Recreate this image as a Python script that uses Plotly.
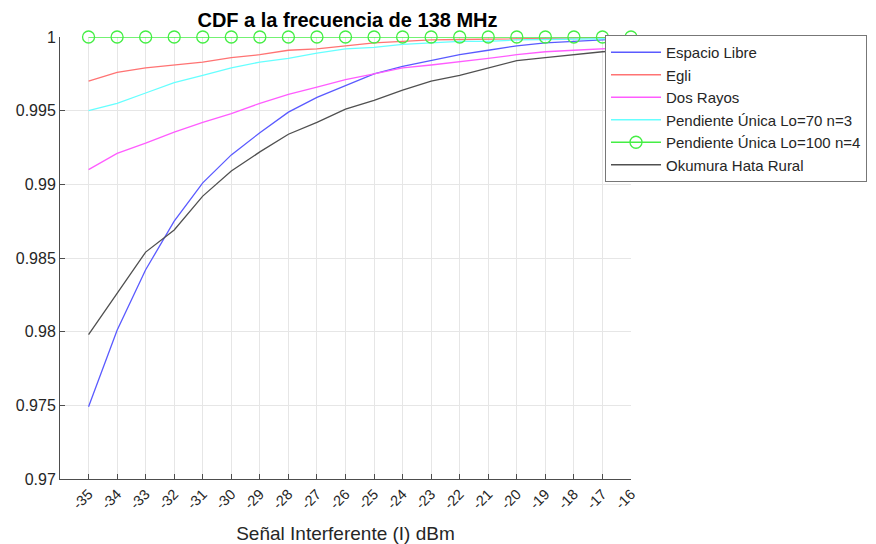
import plotly.graph_objects as go

x = list(range(-35, -15))

espacio_libre = [0.9749, 0.9801, 0.9842, 0.9875, 0.9901, 0.9920, 0.9935, 0.9949, 0.9959, 0.9967,
                 0.9975, 0.9980, 0.9984, 0.9988, 0.9991, 0.9994, 0.9996, 0.9997, 0.9998, 0.9999]
egli = [0.9970, 0.9976, 0.9979, 0.9981, 0.9983, 0.9986, 0.9988, 0.9991, 0.9992, 0.9994,
        0.9996, 0.9997, 0.9998, 0.99983, 0.99986, 0.9999, 0.9999, 0.99995, 0.99995, 0.99997]
dos_rayos = [0.9910, 0.9921, 0.9928, 0.99355, 0.9942, 0.9948, 0.9955, 0.9961, 0.9966, 0.9971,
             0.9975, 0.9979, 0.9981, 0.9983, 0.99855, 0.9988, 0.9990, 0.9991, 0.9992, 0.9993]
pend_70 = [0.9950, 0.9955, 0.9962, 0.9969, 0.9974, 0.9979, 0.9983, 0.99855, 0.9989, 0.9992,
           0.9993, 0.9995, 0.9996, 0.9997, 0.9997, 0.9998, 0.99983, 0.99986, 0.9999, 0.9999]
pend_100 = [1.0] * 20
okumura = [0.9798, 0.9826, 0.9854, 0.9869, 0.9892, 0.9909, 0.9922, 0.9934, 0.9942, 0.9951,
           0.9957, 0.9964, 0.9970, 0.9974, 0.9979, 0.9984, 0.9986, 0.9988, 0.9990, 0.9991]

tick_vals_x = x
tick_text_x = [str(v) for v in x]
tick_vals_y = [0.97, 0.975, 0.98, 0.985, 0.99, 0.995, 1.0]
tick_text_y = ["0.97", "0.975", "0.98", "0.985", "0.99", "0.995", "1"]

series = [
    ("Espacio Libre", espacio_libre, "#5a5aff", None),
    ("Egli", egli, "#ff7373", None),
    ("Dos Rayos", dos_rayos, "#ff5cff", None),
    ("Pendiente Única Lo=70 n=3", pend_70, "#66ffff", None),
    ("Pendiente Única Lo=100 n=4", pend_100, "#44ee44", "circle-open"),
    ("Okumura Hata Rural", okumura, "#505050", None),
]

fig = go.Figure()
for name, vals, color, sym in series:
    if sym:
        fig.add_trace(go.Scatter(x=x, y=vals, name=name, mode="lines+markers",
                                 line=dict(color=color, width=1.3),
                                 marker=dict(symbol=sym, size=12, color=color, line=dict(width=1.3, color=color)),
                                 cliponaxis=False))
    else:
        fig.add_trace(go.Scatter(x=x, y=vals, name=name, mode="lines",
                                 line=dict(color=color, width=1.3)))

# The page body adds an 8px offset; figure is sized/positioned to compensate.
W, H = 868, 536
L, T, PW, PH = 52, 29, 571, 442
font_family = "Liberation Sans, Arial, sans-serif"
fig.update_layout(
    width=W, height=H,
    margin=dict(l=L, r=W - L - PW, t=T, b=H - T - PH, autoexpand=False),
    paper_bgcolor="white", plot_bgcolor="white",
    font=dict(family=font_family, color="#262626"),
    title=dict(text="<b>CDF a la frecuencia de 138 MHz</b>", x=339.5 / W, xanchor="center",
               y=1 - 12 / H, yanchor="middle", font=dict(size=20, color="black")),
    showlegend=True,
    legend=dict(x=(597 - L) / PW, y=(T + PH - 27) / PH, xanchor="left", yanchor="top",
                bgcolor="white", bordercolor="#777777", borderwidth=1,
                font=dict(size=15, color="#262626"), tracegroupgap=0,
                itemwidth=50),
)
fig.update_xaxes(range=[-36, -16], tickmode="array", tickvals=tick_vals_x, ticktext=tick_text_x,
                 tickangle=-45, tickfont=dict(size=14.5), showgrid=True, gridcolor="#e6e6e6", gridwidth=1,
                 showline=True, linecolor="#4d4d4d", linewidth=1, ticks="inside", ticklen=5,
                 tickcolor="#4d4d4d", zeroline=False,
                 title=dict(text="Señal Interferente (I) dBm", font=dict(size=19), standoff=15))
fig.update_yaxes(range=[0.97, 1.0], tickmode="array", tickvals=tick_vals_y, ticktext=tick_text_y,
                 tickfont=dict(size=16), showgrid=True, gridcolor="#e6e6e6", gridwidth=1,
                 showline=True, linecolor="#4d4d4d", linewidth=1, ticks="inside", ticklen=5,
                 tickcolor="#4d4d4d", zeroline=False)

fig.write_html("out.html")
